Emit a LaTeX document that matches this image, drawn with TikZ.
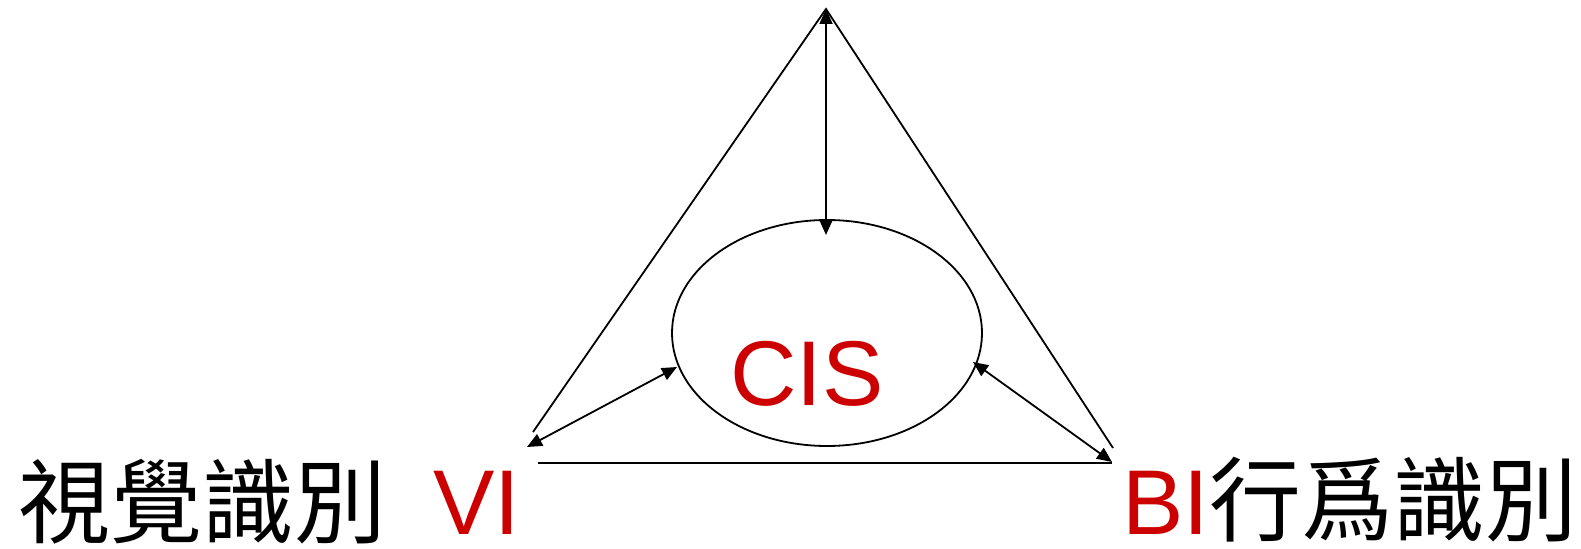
\documentclass[tikz,border=0pt]{standalone}
\usepackage{fontspec}
\setmainfont{Liberation Sans}
\newfontfamily\cjk{Noto Sans CJK TC}
\usetikzlibrary{arrows.meta,shapes.geometric}
\definecolor{cisred}{HTML}{CC0000}
\tikzset{
  line/.style={line width=0.9pt},
  tips/.style={{Triangle[length=7.5pt,width=6.5pt]}-{Triangle[length=7.5pt,width=6.5pt]}},
  big/.style={inner sep=0pt,text depth=0pt,font=\fontsize{46}{50}\selectfont},
  redtxt/.style={big,text=cisred},
}
\begin{document}
\begin{tikzpicture}[x=0.5pt,y=-0.5pt]
\useasboundingbox (0,0) rectangle (1581,549);
% ellipse
\node[draw,line,ellipse,minimum width=155pt,minimum height=113pt,inner sep=0pt] (ell) at (827,333) {};
\node[redtxt,anchor=base west] (cis) at (730,406) {CIS};
% corner points
\coordinate (apex) at (826,9);
\coordinate (et) at (826,235);
\coordinate (tl) at (533,432);
\coordinate (tr) at (1113,448);
\coordinate (al) at (527,447);
\coordinate (ar) at (1112,462);
\coordinate (bl) at (538,463);
\coordinate (br) at (1112,463);
\coordinate (el) at (677,367);
\coordinate (er) at (973,362);
% triangle sides
\draw[line] (tl) -- (apex) -- (tr);
\draw[line] (bl) -- (br);
% arrows
\draw[line,tips] (apex) -- (et);
\draw[line,tips] (al) -- (el);
\draw[line,tips] (er) -- (ar);
% labels
\node[big,anchor=base west] (vis) at (18,537) {\cjk 視覺識別};
\node[redtxt,anchor=base west] (vi) at (433,535) {VI};
\node[big,anchor=base west] (bi) at (1122,535) {\textcolor{cisred}{BI}\cjk 行爲識別};
\end{tikzpicture}
\end{document}
